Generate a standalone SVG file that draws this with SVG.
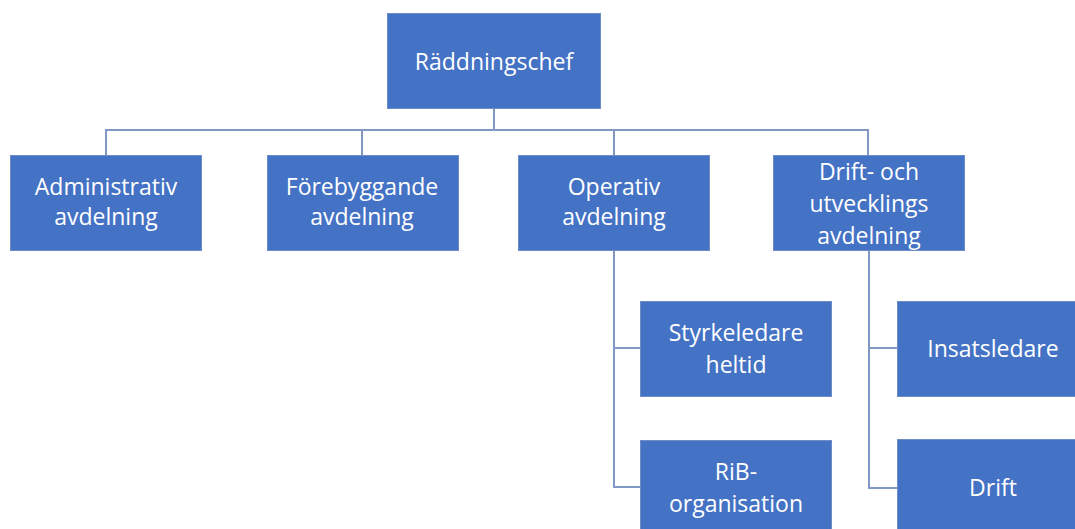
<svg xmlns="http://www.w3.org/2000/svg" width="1075" height="529" viewBox="0 0 1075 529">
<style>
.box{fill:#4472C4;stroke:#6d8cc6;stroke-width:1}
.t{font-family:"Open Sans","Noto Sans","Liberation Sans",sans-serif;font-size:23px;fill:#ffffff;text-anchor:middle}
.c{fill:none;stroke:#8197c4;stroke-width:2}
</style>
<rect width="1075" height="529" fill="#ffffff"/>
<g id="connectors">
<path class="c" d="M494 108V130M106 155V130H868V155M362 130V155M614 130V155"/>
<path class="c" d="M614 250V487H640M614 348H640"/>
<path class="c" d="M869 250V488H897M869 348H897"/>
</g>
<g id="n-raddningschef"><rect class="box" x="387.5" y="13.5" width="213" height="95"/><text class="t" x="494" y="70">Räddningschef</text></g>
<g id="n-administrativ"><rect class="box" x="10.5" y="155.5" width="191" height="95"/><text class="t" x="106" y="195">Administrativ</text><text class="t" x="106" y="225">avdelning</text></g>
<g id="n-forebyggande"><rect class="box" x="267.5" y="155.5" width="191" height="95"/><text class="t" x="362" y="195">Förebyggande</text><text class="t" x="362" y="225">avdelning</text></g>
<g id="n-operativ"><rect class="box" x="518.5" y="155.5" width="191" height="95"/><text class="t" x="614" y="195">Operativ</text><text class="t" x="614" y="225">avdelning</text></g>
<g id="n-drift-utv"><rect class="box" x="773.5" y="155.5" width="191" height="95"/><text class="t" x="869" y="180">Drift- och</text><text class="t" x="869" y="212">utvecklings</text><text class="t" x="869" y="244">avdelning</text></g>
<g id="n-styrkeledare"><rect class="box" x="640.5" y="301.5" width="191" height="95"/><text class="t" x="736" y="341">Styrkeledare</text><text class="t" x="736" y="373">heltid</text></g>
<g id="n-rib"><rect class="box" x="640.5" y="440.5" width="191" height="95"/><text class="t" x="736" y="480">RiB-</text><text class="t" x="736" y="512">organisation</text></g>
<g id="n-insatsledare"><rect class="box" x="897.5" y="301.5" width="191" height="95"/><text class="t" x="993" y="357">Insatsledare</text></g>
<g id="n-drift"><rect class="box" x="897.5" y="439.5" width="191" height="95"/><text class="t" x="993" y="496">Drift</text></g>
</svg>
